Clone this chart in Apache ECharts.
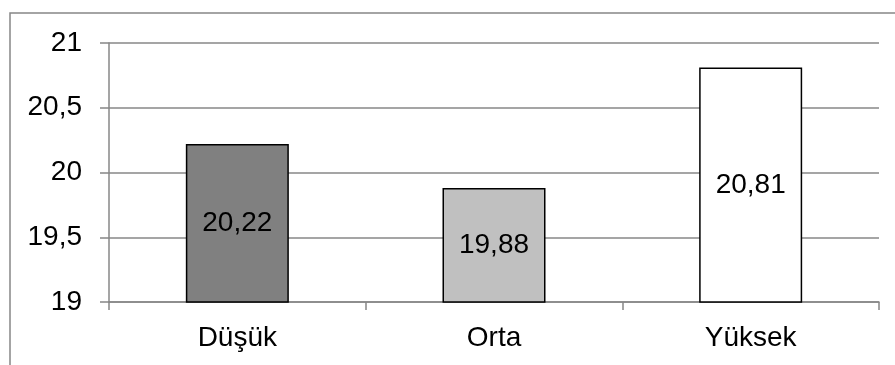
<!DOCTYPE html>
<html>
<head>
<meta charset="utf-8">
<script src="https://cdn.jsdelivr.net/npm/echarts@6/dist/echarts.min.js"></script>
<style>
  html, body { margin: 0; padding: 0; background: #fff; }
  #chart { width: 895px; height: 365px; }
</style>
</head>
<body>
<div id="chart"></div>
<script>
// Category names, bar values and bar fills
const categories = ['Düşük', 'Orta', 'Yüksek'];
const values = [20.22, 19.88, 20.81];
const barColors = ['#808080', '#c0c0c0', '#ffffff'];

const FONT = '"Liberation Sans", Arial, sans-serif';
const GRID_GRAY = '#878787';

const chart = echarts.init(document.getElementById('chart'));

chart.setOption({
  animation: false,
  backgroundColor: '#ffffff',
  textStyle: { fontFamily: FONT },
  graphic: [{
    type: 'rect',
    shape: { x: 10, y: 13, width: 900, height: 400 },
    style: { fill: 'none', stroke: GRID_GRAY, lineWidth: 1.5 },
    silent: true,
    z: 100
  }],
  grid: { left: 109, right: 16, top: 43, bottom: 63, containLabel: false },
  xAxis: {
    type: 'category',
    data: categories,
    boundaryGap: true,
    axisLine: { show: true, lineStyle: { color: GRID_GRAY, width: 1.5 } },
    axisTick: { show: true, length: 8, alignWithLabel: false, lineStyle: { color: GRID_GRAY, width: 1.5 } },
    axisLabel: { color: '#000', fontSize: 28, fontFamily: FONT, margin: 22, lineHeight: 28 }
  },
  yAxis: {
    type: 'value',
    min: 19,
    max: 21,
    interval: 0.5,
    axisLine: { show: true, onZero: false, lineStyle: { color: GRID_GRAY, width: 1.5 } },
    axisTick: { show: true, length: 9, lineStyle: { color: GRID_GRAY, width: 1.5 } },
    splitLine: { show: true, lineStyle: { color: GRID_GRAY, width: 1.5 } },
    axisLabel: {
      color: '#000', fontSize: 28, fontFamily: FONT, margin: 27,
      formatter: v => String(v).replace('.', ',')
    }
  },
  series: [{
    type: 'bar',
    barWidth: 103,
    data: values.map((v, i) => ({
      value: v,
      itemStyle: { color: barColors[i], borderColor: '#000', borderWidth: 1.5 }
    })),
    label: {
      show: true,
      position: 'inside',
      color: '#000',
      fontSize: 28,
      fontFamily: FONT,
      formatter: p => p.value.toFixed(2).replace('.', ',')
    }
  }]
});
</script>
</body>
</html>
